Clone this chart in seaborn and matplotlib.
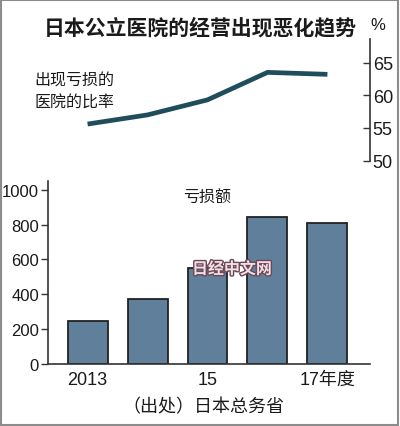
import pandas as pd
import matplotlib.pyplot as plt
import matplotlib.patheffects as pe
from matplotlib import font_manager
from matplotlib.patches import Rectangle
import seaborn as sns

# === Data
years = ["2013", "14", "15", "16", "17年度"]
tick_labels = ["2013", "", "15", "", "17年度"]
loss_ratio = [55.6, 57.0, 59.3, 63.5, 63.2]      # % of hospitals in the red
loss_amount = [247, 375, 549, 845, 811]          # deficit amount

df = pd.DataFrame({"year": years, "ratio": loss_ratio, "amount": loss_amount})
df["pos"] = range(len(df))

# === Fonts
sns.set_theme(style="white")
installed = {f.name for f in font_manager.fontManager.ttflist}
narrow = "Liberation Sans Narrow" if "Liberation Sans Narrow" in installed else "Liberation Sans"
cjk = ["Noto Sans CJK SC", "DejaVu Sans"]
num_font = [narrow, "Noto Sans CJK SC", "DejaVu Sans"]
plt.rcParams["font.family"] = num_font

bar_color = "#5f7f9b"
line_color = "#1f4d5c"
text_color = "#1a1a1a"
xlim = (-0.66, 4.71)

fig = plt.figure(figsize=(4.0, 4.27), dpi=100)
fig.patch.set_facecolor("white")

# === Top panel: ratio line
ax_top = fig.add_axes([0.12, 0.6213, 0.805, 0.285])
sns.lineplot(data=df, x="pos", y="ratio", ax=ax_top, color=line_color,
             linewidth=3.4, solid_capstyle="butt")
ax_top.set_xlim(*xlim)
ax_top.set_ylim(50, 68.6)
ax_top.set_yticks([50, 55, 60, 65])
ax_top.yaxis.tick_right()
ax_top.tick_params(axis="y", direction="in", length=5, width=1, color="#333333",
                   labelsize=13, pad=2, labelcolor=text_color)
ax_top.set_xticks([])
ax_top.set_xlabel("")
ax_top.set_ylabel("")
for s in ["top", "left", "bottom"]:
    ax_top.spines[s].set_visible(False)
ax_top.spines["right"].set_color("#333333")
ax_top.spines["right"].set_linewidth(1.2)
ax_top.set_facecolor("none")

# === Bottom panel: deficit bars
ax_bot = fig.add_axes([0.12, 0.1452, 0.805, 0.4286])
sns.barplot(data=df, x="pos", y="amount", ax=ax_bot, color=bar_color,
            saturation=1, width=0.667, edgecolor="#222222", linewidth=1.3,
            native_scale=True)
ax_bot.set_xlim(*xlim)
ax_bot.set_ylim(0, 1050)
ax_bot.set_yticks([0, 200, 400, 600, 800, 1000])
ax_bot.set_xticks(df["pos"])
ax_bot.set_xticklabels(tick_labels)
ax_bot.tick_params(axis="y", direction="out", length=5, width=1, color="#333333",
                   labelsize=12, pad=1.5, labelcolor=text_color, left=True)
ax_bot.tick_params(axis="x", length=0, labelsize=13, pad=5, labelcolor=text_color)
ax_bot.set_xlabel("")
ax_bot.set_ylabel("")
for s in ["top", "right"]:
    ax_bot.spines[s].set_visible(False)
for s in ["left", "bottom"]:
    ax_bot.spines[s].set_color("#333333")
    ax_bot.spines[s].set_linewidth(1.2)
ax_bot.set_facecolor("none")

# === Texts
fig.text(0.502, 0.934, "日本公立医院的经营出现恶化趋势", ha="center", va="center",
         fontsize=15, fontweight="bold", family=cjk, color=text_color)
fig.text(0.945, 0.94, "%", ha="center", va="center", fontsize=12,
         family=num_font, color=text_color)
fig.text(0.086, 0.784, "出现亏损的\n医院的比率", ha="left", va="center",
         fontsize=11.5, family=cjk, color=text_color, linespacing=1.45)
fig.text(0.518, 0.536, "亏损额", ha="center", va="center", fontsize=11.5,
         family=cjk, color=text_color)
fig.text(0.508, 0.047, "（出处）日本总务省", ha="center", va="center",
         fontsize=13, family=cjk, color=text_color)
fig.text(0.58, 0.368, "日经中文网", ha="center", va="center", fontsize=11.5,
         fontweight="bold", family=cjk, color="#f3dde6",
         path_effects=[pe.withStroke(linewidth=2, foreground="#6b4a55")])

# === Outer frame
fig.patches.append(Rectangle((0.002, 0.003), 0.994, 0.994, transform=fig.transFigure,
                             fill=False, edgecolor="#8c8c8c", linewidth=1.5))

fig.savefig("out.png", dpi=100)
plt.close(fig)
